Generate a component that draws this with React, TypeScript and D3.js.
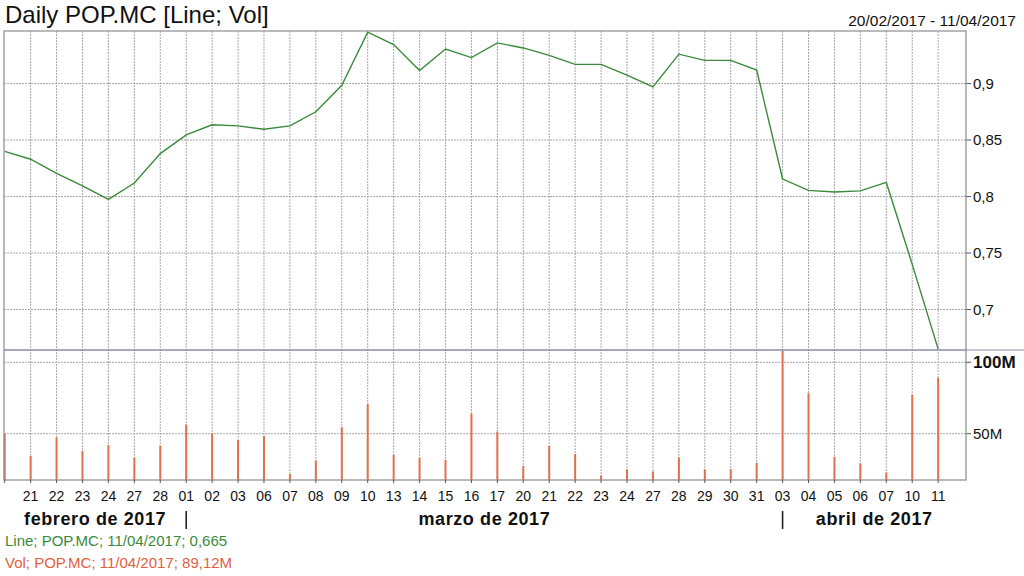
import * as d3 from 'd3';

// trading days shown on the chart
const dates = [
  '2017-02-20', '2017-02-21', '2017-02-22', '2017-02-23', '2017-02-24', '2017-02-27', '2017-02-28',
  '2017-03-01', '2017-03-02', '2017-03-03', '2017-03-06', '2017-03-07', '2017-03-08', '2017-03-09',
  '2017-03-10', '2017-03-13', '2017-03-14', '2017-03-15', '2017-03-16', '2017-03-17', '2017-03-20',
  '2017-03-21', '2017-03-22', '2017-03-23', '2017-03-24', '2017-03-27', '2017-03-28', '2017-03-29',
  '2017-03-30', '2017-03-31',
  '2017-04-03', '2017-04-04', '2017-04-05', '2017-04-06', '2017-04-07', '2017-04-10', '2017-04-11',
];

// closing price
const prices = [
  0.84, 0.833, 0.8205, 0.8095, 0.7975, 0.812, 0.838,
  0.8545, 0.8635, 0.8625, 0.8595, 0.8625, 0.875, 0.8985, 0.9455, 0.9345, 0.9115, 0.9305, 0.923, 0.936,
  0.9315, 0.925, 0.917, 0.917, 0.9075, 0.897, 0.926, 0.9205, 0.9205, 0.912,
  0.8155, 0.8055, 0.804, 0.805, 0.8125, 0.74, 0.665,
];

// volume, millions
const volumes = [
  50.3, 34.4, 47.5, 38.1, 42.1, 33.4, 41.6,
  56.3, 50.3, 45.6, 48.4, 21.7, 31.1, 54.5, 70.6, 35.3, 33.2, 31.8, 64.0, 51.4,
  27.4, 41.4, 35.8, 20.8, 25.0, 23.6, 33.4, 25.0, 25.2, 29.7,
  108.2, 78.3, 33.9, 29.2, 22.9, 77.1, 89.12,
];

const priceTicks = [0.7, 0.75, 0.8, 0.85, 0.9];
const volumeTicks = [50, 100];
const monthNames = ['enero', 'febrero', 'marzo', 'abril', 'mayo', 'junio'];

const FONT = "'Liberation Sans', Arial, sans-serif";
const GRID = '#a8a8a8';
const BORDER = '#8c8c8c';

const left = 4;
const right = 966;
const top = 31;
const split = 350;
const bottom = 480;

const comma = (v: number) => String(v).replace('.', ',');

export default function App() {
  const parse = d3.timeParse('%Y-%m-%d');
  const days = dates.map((d) => parse(d) as Date);
  const dayFmt = d3.timeFormat('%d');

  const x = d3.scaleLinear().domain([0, dates.length]).range([left + 0.7, right - 1.9]);
  const yPrice = d3.scaleLinear().domain([0.6642, 0.9465]).range([split, top]);
  const yVol = d3.scaleLinear().domain([17.6, 108.6]).range([bottom, split]);

  const line = d3
    .line<number>()
    .x((_, i) => x(i))
    .y((d) => yPrice(d));

  // month groups for the lower axis
  const months: { key: number; name: string; start: number; end: number }[] = [];
  days.forEach((d, i) => {
    const m = d.getMonth();
    const last = months[months.length - 1];
    if (!last || last.key !== m) {
      if (last) last.end = x(i);
      months.push({
        key: m,
        name: `${monthNames[m]} de ${d.getFullYear()}`,
        start: months.length ? x(i) : left,
        end: right,
      });
    }
  });

  const lastDay = d3.timeFormat('%d/%m/%Y')(days[days.length - 1]);
  const lastPrice = prices[prices.length - 1];
  const lastVol = volumes[volumes.length - 1];

  return (
    <svg
      width={1024}
      height={576}
      style={{ position: 'absolute', left: 0, top: 0, background: '#fff' }}
      fontFamily={FONT}
    >
      <rect width={1024} height={576} fill="#fff" />

      <text x={5} y={23} fontSize={24} fill="#111">
        Daily POP.MC [Line; Vol]
      </text>
      <text x={1016} y={26} fontSize={15.5} textAnchor="end" fill="#111">
        {`${d3.timeFormat('%d/%m/%Y')(days[0])} - ${lastDay}`}
      </text>

      {/* vertical grid */}
      {dates.map((_, i) =>
        i === 0 ? null : (
          <line
            key={'vg' + i}
            x1={x(i)}
            x2={x(i)}
            y1={top}
            y2={bottom}
            stroke={GRID}
            strokeDasharray="2,1"
          />
        )
      )}

      {/* price grid + labels */}
      {priceTicks.map((t) => (
        <g key={'p' + t}>
          <line x1={left} x2={right} y1={yPrice(t)} y2={yPrice(t)} stroke={GRID} strokeDasharray="2,1" />
          <line x1={right} x2={right + 5} y1={yPrice(t)} y2={yPrice(t)} stroke="#555" />
          <text x={right + 7} y={yPrice(t) + 5} fontSize={15} fill="#111">
            {comma(t)}
          </text>
        </g>
      ))}

      {/* volume grid + labels */}
      {volumeTicks.map((t, i) => (
        <g key={'v' + t}>
          <line x1={left} x2={right} y1={yVol(t)} y2={yVol(t)} stroke={GRID} strokeDasharray="2,1" />
          <line x1={right} x2={right + 5} y1={yVol(t)} y2={yVol(t)} stroke="#555" />
          <text
            x={right + 7}
            y={yVol(t) + (i === volumeTicks.length - 1 ? 6 : 5)}
            fontSize={i === volumeTicks.length - 1 ? 17 : 15}
            fontWeight={i === volumeTicks.length - 1 ? 'bold' : 'normal'}
            fill="#111"
          >
            {t}M
          </text>
        </g>
      ))}

      {/* volume bars */}
      {volumes.map((v, i) => (
        <rect key={'b' + i} x={x(i) - 1} y={yVol(v)} width={2} height={bottom - yVol(v)} fill="#e2704e" />
      ))}

      {/* price line */}
      <path d={line(prices) || ''} fill="none" stroke="#3a8a3a" strokeWidth={1.4} />

      {/* frame */}
      <rect x={left} y={top} width={right - left} height={bottom - top} fill="none" stroke={BORDER} strokeWidth={1.2} />
      <line x1={left} x2={right} y1={split} y2={split} stroke="#8a8ea4" strokeWidth={1.6} />
      <line x1={right} x2={right + 58} y1={split} y2={split} stroke="#8a8ea4" strokeWidth={1.2} />

      {/* date axis */}
      {days.map((d, i) => (
        <g key={'t' + i}>
          <line x1={x(i)} x2={x(i)} y1={bottom} y2={bottom + 3} stroke="#555" />
          {i > 0 && (
            <text x={x(i)} y={501} fontSize={14} textAnchor="middle" fill="#111">
              {dayFmt(d)}
            </text>
          )}
        </g>
      ))}

      {months.map((m, i) => (
        <g key={'m' + i}>
          {i > 0 && <line x1={m.start} x2={m.start} y1={511} y2={529} stroke="#222" strokeWidth={1.6} />}
          <text
            x={(m.start + m.end) / 2}
            y={525}
            fontSize={18}
            fontWeight="bold"
            letterSpacing={0.6}
            textAnchor="middle"
            fill="#111"
          >
            {m.name}
          </text>
        </g>
      ))}

      {/* legend */}
      <text x={5} y={546} fontSize={15} fill="#3a8a3a">
        {`Line; POP.MC; ${lastDay}; ${comma(lastPrice)}`}
      </text>
      <text x={5} y={568} fontSize={15} fill="#e2603e">
        {`Vol; POP.MC; ${lastDay}; ${comma(lastVol)}M`}
      </text>
    </svg>
  );
}
